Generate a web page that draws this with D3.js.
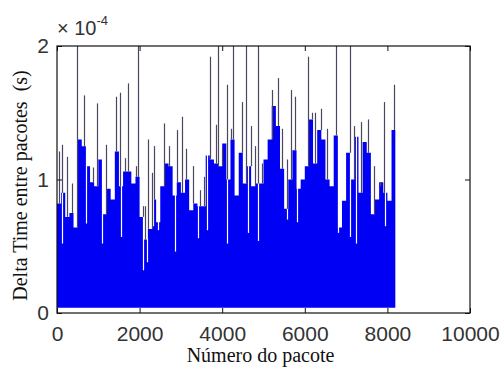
<!DOCTYPE html>
<html>
<head>
<meta charset="utf-8">
<script src="https://cdn.jsdelivr.net/npm/d3@7"></script>
<style>
  body { margin: 0; background: #fff; }
  svg { display: block; }
</style>
</head>
<body>
<div id="chart"></div>
<script>
// values in units of 1e-4 s
const binSize = 100;          // packets per envelope bin
const lastPacket = 8192;
const minDelta = 0.04;        // lower edge of the dense trace
const envelope = [
  0.82, 0.90, 0.72, 0.75, 0.64, 1.30, 1.25, 1.10, 0.98, 0.95,
  1.15, 0.74, 0.93, 0.85, 1.21, 0.95, 1.06, 1.06, 0.97, 1.02,
  0.72, 0.55, 0.63, 0.85, 0.68, 0.95, 1.12, 1.10, 0.88, 0.98,
  0.90, 1.00, 0.77, 0.82, 0.80, 0.80, 1.18, 1.15, 1.12, 1.10,
  1.27, 1.00, 1.30, 0.88, 1.20, 0.97, 1.10, 0.95, 0.97, 0.97,
  1.15, 1.30, 1.55, 1.40, 1.08, 0.78, 1.00, 1.22, 0.93, 1.00,
  1.10, 1.45, 1.12, 1.37, 1.30, 1.00, 0.95, 1.33, 0.64, 0.84,
  1.20, 1.00, 1.32, 0.90, 1.28, 1.20, 0.74, 0.85, 0.98, 0.90,
  0.84, 1.37
];
// isolated peaks [packet, value]
const spikes = [
  [48, 1.21], [113, 1.26], [234, 1.17], [371, 0.97], [484, 2.2], [654, 1.63],
  [864, 1.09], [960, 1.57], [1178, 1.26], [1420, 1.62], [1525, 1.65], [1646, 1.16],
  [1727, 1.72], [1913, 1.10], [1969, 2.2], [2074, 0.80], [2130, 0.80], [2211, 1.30],
  [2292, 1.05], [2356, 1.25], [2598, 1.42], [2703, 1.25], [2913, 1.37], [3018, 1.47],
  [3123, 1.23], [3300, 1.10], [3462, 0.92], [3567, 1.02], [3704, 1.92], [3849, 1.41],
  [3905, 2.2], [3995, 1.23], [4123, 1.71], [4213, 1.38], [4269, 2.2], [4471, 1.58],
  [4576, 2.2], [4697, 1.40], [4794, 1.25], [4874, 2.2], [4955, 1.12], [5197, 1.67],
  [5342, 1.76], [5455, 1.38], [5560, 1.15], [5665, 1.67], [5762, 1.62], [6069, 1.92],
  [6181, 1.50], [6246, 1.50], [6391, 1.53], [6529, 1.38], [6755, 2.2], [7094, 2.2],
  [7198, 1.40], [7352, 1.43], [7536, 1.45], [7675, 1.10], [7820, 0.95], [7917, 1.58],
  [8159, 1.71]
];
// short drops inside the dense band [packet, value]
const dips = [
  [113, 0.52], [702, 0.67], [1089, 0.52], [1549, 0.57], [2082, 0.32], [2179, 0.38],
  [2324, 0.65], [2445, 0.62], [2857, 0.46], [3414, 0.56], [3632, 0.62], [4116, 0.52],
  [4624, 0.60], [4866, 0.54], [5568, 0.70], [5810, 0.68], [6803, 0.60], [7094, 0.57],
  [7239, 0.52], [7941, 0.65]
];
const xTicks = [0, 2000, 4000, 6000, 8000, 10000];
const yTicks = [0, 1, 2];

const width = 504, height = 370;
const margin = { top: 46, right: 34, bottom: 57, left: 57 };
const plotW = width - margin.left - margin.right;
const plotH = height - margin.top - margin.bottom;

const svg = d3.select('#chart').append('svg').attr('width', width).attr('height', height);
const g = svg.append('g').attr('transform', `translate(${margin.left},${margin.top})`);

const x = d3.scaleLinear().domain([0, 10000]).range([0, plotW]);
const y = d3.scaleLinear().domain([0, 2]).range([plotH, 0]);

g.append('clipPath').attr('id', 'plotClip')
  .append('rect').attr('width', plotW).attr('height', plotH);

const plot = g.append('g').attr('clip-path', 'url(#plotClip)');

const envPoints = envelope.map((v, i) => [i * binSize, v]);
envPoints.push([lastPacket, envelope[envelope.length - 1]]);
const envAt = p => envelope[Math.min(envelope.length - 1, Math.floor(p / binSize))];

plot.append('path')
  .datum(envPoints)
  .attr('fill', '#0000f5')
  .attr('d', d3.area().curve(d3.curveStepAfter)
    .x(d => x(d[0])).y0(y(minDelta)).y1(d => y(d[1])));

plot.selectAll('.dip').data(dips).enter().append('line')
  .attr('class', 'dip')
  .attr('x1', d => Math.round(x(d[0])) + 0.5).attr('x2', d => Math.round(x(d[0])) + 0.5)
  .attr('y1', d => y(d[1])).attr('y2', d => y(envAt(d[0])) - 1)
  .attr('stroke', '#fff').attr('stroke-width', 1.2);

plot.selectAll('.spike').data(spikes).enter().append('line')
  .attr('class', 'spike')
  .attr('x1', d => Math.round(x(d[0])) + 0.5).attr('x2', d => Math.round(x(d[0])) + 0.5)
  .attr('y1', d => y(envAt(d[0]))).attr('y2', d => y(d[1]))
  .attr('stroke', '#4a4660').attr('stroke-width', 1.2);

const tickFont = '"Liberation Sans", Arial, sans-serif';
const fmt = d3.format('d');

const xAxis = g.append('g').attr('transform', `translate(0,${plotH})`)
  .call(d3.axisBottom(x).tickValues(xTicks).tickFormat(fmt).tickSizeInner(-5).tickSizeOuter(0).tickPadding(13));
const xTop = g.append('g')
  .call(d3.axisTop(x).tickValues(xTicks).tickSizeInner(-5).tickSizeOuter(0).tickFormat(''));
const yAxis = g.append('g')
  .call(d3.axisLeft(y).tickValues(yTicks).tickFormat(fmt).tickSizeInner(-5).tickSizeOuter(0).tickPadding(8));
const yRight = g.append('g').attr('transform', `translate(${plotW},0)`)
  .call(d3.axisRight(y).tickValues(yTicks).tickSizeInner(-5).tickSizeOuter(0).tickFormat(''));

[xAxis, xTop, yAxis, yRight].forEach(a => {
  a.select('.domain').remove();
  a.selectAll('line').attr('stroke', '#111');
  a.selectAll('text').style('font-family', tickFont).style('font-size', '21px').style('fill', '#333');
});

g.append('rect').attr('width', plotW).attr('height', plotH)
  .attr('fill', 'none').attr('stroke', '#111').attr('stroke-width', 1.2);

const expo = g.append('text').attr('x', 0).attr('y', -11)
  .style('font-family', tickFont).style('font-size', '20px').style('fill', '#333');
expo.append('tspan').text('× 10');
expo.append('tspan').attr('dy', -10).style('font-size', '13px').text('-4');

svg.append('text')
  .attr('x', margin.left + x(5000) - 3).attr('y', 362)
  .attr('text-anchor', 'middle')
  .style('font-family', '"Liberation Serif", "Times New Roman", serif').style('font-size', '20px').style('fill', '#111')
  .text('Número do pacote');

svg.append('text')
  .attr('transform', `translate(27,${margin.top + plotH / 2 + 6}) rotate(-90)`)
  .attr('text-anchor', 'middle')
  .style('font-family', '"Liberation Serif", "Times New Roman", serif').style('font-size', '20px').style('fill', '#111')
  .style('white-space', 'pre')
  .text('Delta Time entre pacotes  (s)');
</script>
</body>
</html>
